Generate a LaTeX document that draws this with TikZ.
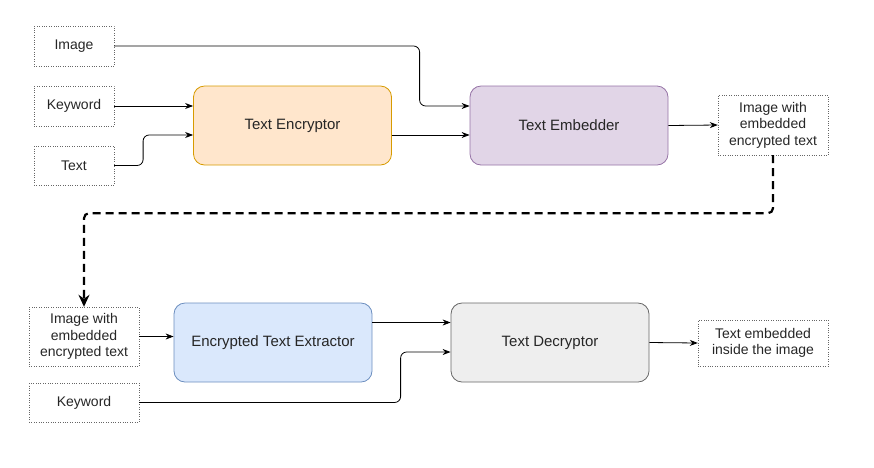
\documentclass[tikz,border=0pt]{standalone}
\usepackage{fontspec}
\setmainfont{Liberation Sans}
\usetikzlibrary{arrows.meta}

\definecolor{encfill}{HTML}{FFE6CC}
\definecolor{encline}{HTML}{D79B00}
\definecolor{embfill}{HTML}{E1D5E7}
\definecolor{embline}{HTML}{9673A6}
\definecolor{extfill}{HTML}{DAE8FC}
\definecolor{extline}{HTML}{6C8EBF}
\definecolor{decfill}{HTML}{EEEEEE}
\definecolor{decline}{HTML}{666666}

\begin{document}
\begin{tikzpicture}[x=1pt, y=-1pt,
    font=\fontsize{14}{16.5}\selectfont, text=black!85,
    iobox/.style={draw=black!60, dotted, thin, align=center, inner sep=1pt},
    block/.style={draw, rounded corners=11pt, line width=0.8pt,
      minimum width=198pt, minimum height=79pt, font=\fontsize{15}{18}\selectfont},
    conn/.style={-{Stealth[length=8pt,width=6pt]}, line width=0.8pt, rounded corners=6pt}]
%      \draw [help lines] (0,0) grid[step=50] (874,467);
      \useasboundingbox (0,0) rectangle (874,467);

      % encoding side
      \node [iobox, minimum width=80pt, minimum height=40pt] (img) at (74,46) {Image};
      \node [iobox, minimum width=80pt, minimum height=40pt] (kw) at (74,106) {Keyword};
      \node [iobox, minimum width=80pt, minimum height=39pt] (txt) at (74,165.5) {Text};
      \node [block, fill=encfill, draw=encline] (enc) at (292.5,125.5) {Text Encryptor};
      \node [block, fill=embfill, draw=embline] (emb) at (569,125.5) {Text Embedder};
      \node [iobox, minimum width=110pt, minimum height=60pt] (out1) at (773,125)
        {Image with\\embedded\\encrypted text};

      \draw [conn] (img.east) -| ([xshift=-50pt,yshift=19.5pt]emb.west) -- ([yshift=19.5pt]emb.west);
      \draw [conn] (kw.east) -- (kw.east -| enc.west);
      \draw [conn] (txt.east) -| ([xshift=-50pt,yshift=-9.5pt]enc.west) -- ([yshift=-9.5pt]enc.west);
      \draw [conn] ([yshift=-9.5pt]enc.east) -- ([yshift=-9.5pt]emb.west);
      \draw [conn] (emb.east) -- (out1.west);

      % decoding side
      \node [iobox, minimum width=110pt, minimum height=59pt] (in2) at (84,336.5)
        {Image with\\embedded\\encrypted text};
      \node [iobox, minimum width=110pt, minimum height=39pt] (kw2) at (84,402.5) {Keyword};
      \node [block, fill=extfill, draw=extline] (ext) at (273,342.5) {Encrypted Text Extractor};
      \node [block, fill=decfill, draw=decline] (dec) at (550,342.5) {Text Decryptor};
      \node [iobox, minimum width=130pt, minimum height=46pt] (out2) at (763,343)
        {Text embedded\\inside the image};

      \draw [-{Stealth[length=12pt,width=11pt]}, line width=2.2pt, dash pattern=on 8pt off 5pt,
        rounded corners=5pt] (out1.south) -- ++(0,58) -| (in2.north);

      \draw [conn] (in2.east) -- (in2.east -| ext.west);
      \draw [conn] ([yshift=20pt]ext.east) -- ([yshift=20pt]dec.west);
      \draw [conn] (kw2.east) -| ([xshift=-50pt,yshift=-9.5pt]dec.west) -- ([yshift=-9.5pt]dec.west);
      \draw [conn] (dec.east) -- (out2.west);
\end{tikzpicture}
\end{document}
